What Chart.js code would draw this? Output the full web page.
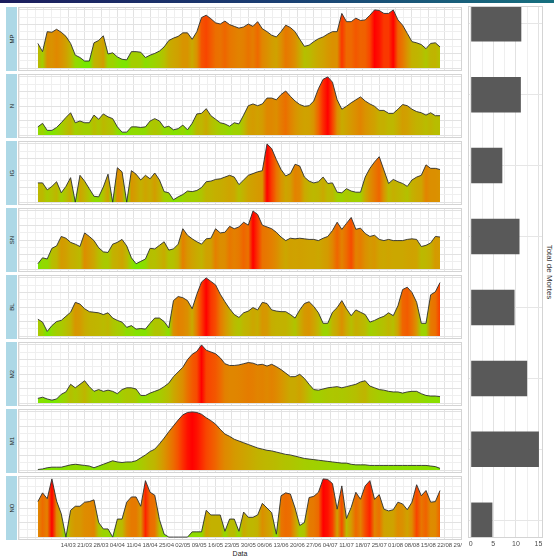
<!DOCTYPE html>
<html>
<head>
<meta charset="utf-8">
<script src="https://cdn.jsdelivr.net/npm/chart.js@4.4.0/dist/chart.umd.min.js"></script>
<style>
  body { margin: 0; width: 554px; height: 557px; overflow: hidden; position: relative; background: #fff; font-family: "Liberation Sans", Arial, sans-serif; }
  .topbar { position: absolute; left: 0; top: 0; width: 554px; height: 3px; background: linear-gradient(to right, #1b1c5c, #1a3e72, #17707f); }
  .strip { position: absolute; left: 6px; width: 11px; height: 64px; background: #add8e6; }
  .strip span { position: absolute; left: 50%; top: 50%; transform: translate(-50%, -50%) rotate(-90deg); font-size: 6px; color: #1a1a1a; white-space: nowrap; }
  .frame { position: absolute; border: 1px solid #d4d4d4; box-sizing: border-box; pointer-events: none; }
  canvas { position: absolute; }
  .label { position: absolute; color: #222; white-space: nowrap; }
</style>
</head>
<body>
<div class="topbar"></div>
<div class="label" style="left:240px; top:553px; font-size:7px; transform:translate(-50%,-50%);">Data</div>
<div class="label" style="left:549px; top:272px; font-size:8px; color:#333; transform:translate(-50%,-50%) rotate(90deg);">Total de Mortes</div>

<script>
// day offset from 01/03, one reading every two days (01/03 .. 20/08)
const days = Array.from({ length: 87 }, (_, i) => i * 2);

const tickLabels = ['14/03', '21/03', '28/03', '04/04', '11/04', '18/04', '25/04', '02/05', '09/05',
  '16/05', '23/05', '30/05', '06/06', '13/06', '20/06', '27/06', '04/07', '11/07', '18/07', '25/07',
  '01/08', '08/08', '15/08', '22/08', '29/08'];
const tickDays = tickLabels.map((_, i) => 13 + i * 7);

const panelNames = ['MP', 'N', 'IG', 'SN', 'BL', 'M2', 'M1', 'NO'];

const mp = [42, 28, 62, 61, 66, 61, 54, 42, 22, 18, 12, 12, 43, 47, 55, 24, 26, 19, 15, 14, 28, 28, 27, 18, 22, 25, 29, 36, 47, 51, 54, 60, 60, 49, 62, 86, 90, 84, 77, 75, 80, 74, 71, 68,
  70, 75, 71, 79, 67, 62, 56, 53, 62, 73, 69, 62, 49, 37, 39, 45, 50, 53, 58, 62, 62, 93, 79, 79, 85, 81, 82, 90, 99, 98, 93, 93, 99, 82, 73, 59, 45, 43, 40, 33, 42, 43, 36];
const n = [14, 20, 8, 8, 13, 21, 30, 38, 21, 24, 21, 21, 34, 27, 36, 31, 28, 14, 5, 5, 14, 14, 13, 14, 24, 28, 24, 13, 15, 9, 11, 17, 9, 20, 36, 37, 45, 33, 27, 21, 19, 15, 21, 19,
  34, 50, 53, 50, 53, 63, 63, 60, 69, 75, 66, 58, 52, 49, 50, 58, 79, 95, 99, 90, 60, 44, 49, 55, 60, 65, 58, 53, 49, 42, 42, 37, 37, 44, 52, 50, 44, 40, 38, 34, 38, 33, 33];
const ig = [33, 33, 21, 27, 35, 16, 27, 42, 0, 46, 36, 23, 10, 9, 26, 48, 0, 59, 52, 0, 54, 48, 38, 46, 40, 50, 38, 18, 16, 4, 9, 13, 19, 18, 20, 25, 35, 36, 39, 40, 43, 46, 43, 30,
  38, 46, 49, 52, 54, 100, 92, 73, 56, 45, 49, 65, 62, 43, 36, 33, 35, 43, 32, 33, 17, 16, 23, 19, 17, 17, 43, 58, 69, 78, 55, 32, 39, 35, 32, 27, 38, 43, 46, 64, 58, 58, 56];
const sn = [9, 19, 17, 35, 39, 55, 52, 45, 42, 38, 61, 55, 48, 36, 29, 28, 42, 45, 50, 39, 19, 9, 13, 17, 35, 34, 40, 46, 32, 34, 42, 68, 57, 51, 46, 42, 51, 52, 68, 61, 62, 72, 68, 71,
  79, 74, 98, 92, 74, 71, 68, 62, 54, 48, 52, 51, 52, 51, 50, 50, 48, 52, 55, 65, 79, 67, 77, 87, 67, 69, 60, 55, 57, 50, 48, 50, 48, 48, 48, 50, 51, 50, 38, 40, 44, 55, 54];
const bl = [29, 24, 8, 18, 25, 27, 34, 41, 58, 55, 47, 42, 41, 40, 37, 40, 31, 27, 24, 15, 18, 12, 13, 12, 22, 31, 31, 25, 14, 61, 68, 66, 61, 47, 72, 93, 100, 94, 88, 72, 59, 47, 37, 32,
  40, 43, 49, 45, 58, 56, 45, 43, 42, 42, 37, 31, 45, 56, 59, 51, 40, 22, 22, 41, 49, 61, 47, 35, 45, 41, 37, 24, 27, 31, 34, 40, 35, 52, 80, 84, 75, 58, 22, 22, 71, 76, 92];
const m2 = [8, 10, 7, 5, 7, 15, 19, 32, 26, 32, 38, 28, 20, 23, 20, 22, 20, 16, 23, 26, 26, 24, 13, 13, 17, 20, 23, 28, 34, 45, 53, 61, 74, 83, 88, 99, 90, 87, 84, 77, 67, 64, 64, 65,
  67, 69, 68, 65, 66, 63, 66, 62, 57, 51, 45, 45, 49, 42, 32, 23, 22, 24, 26, 27, 28, 26, 28, 30, 32, 36, 38, 29, 26, 23, 22, 20, 19, 19, 17, 19, 20, 20, 16, 13, 12, 12, 11];
const m1 = [1, 2, 4, 5, 5, 5, 7, 9, 10, 9, 8, 7, 4, 7, 10, 13, 16, 14, 13, 14, 14, 16, 21, 26, 32, 36, 45, 55, 66, 76, 86, 95, 99, 100, 99, 96, 90, 85, 79, 70, 62, 58, 53, 50,
  47, 44, 41, 38, 36, 34, 33, 31, 29, 27, 26, 24, 22, 20, 19, 18, 17, 16, 15, 14, 13, 12, 12, 10, 9, 9, 9, 8, 8, 8, 8, 8, 8, 8, 8, 8, 8, 8, 8, 8, 7, 6, 3];
const no = [61, 76, 66, 100, 62, 40, 0, 46, 53, 53, 60, 61, 64, 25, 14, 14, 0, 31, 31, 60, 69, 69, 53, 97, 77, 72, 30, 5, 0, 0, 0, 0, 0, 9, 9, 9, 46, 38, 38, 38, 10, 31, 31, 10,
  43, 34, 34, 38, 58, 50, 42, 5, 71, 76, 74, 50, 20, 25, 68, 70, 77, 100, 99, 92, 48, 88, 32, 51, 77, 65, 88, 97, 65, 73, 48, 45, 47, 60, 57, 47, 60, 90, 71, 80, 60, 61, 80];

const series = [mp, n, ig, sn, bl, m2, m1, no];

// Total de Mortes, same order as panels
const totals = [11.2, 11.1, 7.0, 10.8, 9.7, 12.5, 15.1, 4.8];

// ---- layout ----
const panelLeft = 18, panelWidth = 444, panelTop = 7, panelStep = 67, panelHeight = 64, axisHeight = 14;
const xMin = -8.5, xMax = 181.4;
const gridDays = [];
for (let v = 13 - 21; v <= xMax; v += 3.5) gridDays.push(v);

Chart.defaults.font.family = '"Liberation Sans", Arial, sans-serif';

// ---- green -> red gradient interpolated in CIELAB ----
const lowColor = [118, 232, 0];
const highColor = [255, 0, 0];
function toLin(c) { c /= 255; return c <= 0.04045 ? c / 12.92 : Math.pow((c + 0.055) / 1.055, 2.4); }
function fromLin(c) {
  c = c <= 0.0031308 ? 12.92 * c : 1.055 * Math.pow(c, 1 / 2.4) - 0.055;
  return Math.round(Math.min(1, Math.max(0, c)) * 255);
}
function rgbToLab(rgb) {
  const [r, g, b] = rgb.map(toLin);
  const f = t => t > 0.008856 ? Math.cbrt(t) : 7.787 * t + 16 / 116;
  const fx = f((0.4124 * r + 0.3576 * g + 0.1805 * b) / 0.95047);
  const fy = f(0.2126 * r + 0.7152 * g + 0.0722 * b);
  const fz = f((0.0193 * r + 0.1192 * g + 0.9505 * b) / 1.08883);
  return [116 * fy - 16, 500 * (fx - fy), 200 * (fy - fz)];
}
function labToRgb([L, a, bb]) {
  const fy = (L + 16) / 116, fx = fy + a / 500, fz = fy - bb / 200;
  const inv = t => t * t * t > 0.008856 ? t * t * t : (t - 16 / 116) / 7.787;
  const x = 0.95047 * inv(fx), y = inv(fy), z = 1.08883 * inv(fz);
  return [
    fromLin(3.2406 * x - 1.5372 * y - 0.4986 * z),
    fromLin(-0.9689 * x + 1.8758 * y + 0.0415 * z),
    fromLin(0.0557 * x - 0.2040 * y + 1.0570 * z)
  ];
}
const lowLab = rgbToLab(lowColor), highLab = rgbToLab(highColor);
function fillColor(t) {
  const [r, g, b] = labToRgb(lowLab.map((v, i) => v + (highLab[i] - v) * t));
  return `rgb(${r},${g},${b})`;
}

function areaGradient(ctx, values) {
  const chart = ctx.chart;
  const area = chart.chartArea;
  if (!area) return 'transparent';
  const xs = chart.scales.x;
  const vmin = Math.min(...values), vmax = Math.max(...values);
  const g = chart.ctx.createLinearGradient(area.left, 0, area.right, 0);
  values.forEach((v, i) => {
    const p = (xs.getPixelForValue(days[i]) - area.left) / (area.right - area.left);
    g.addColorStop(Math.min(1, Math.max(0, p)), fillColor((v - vmin) / (vmax - vmin)));
  });
  return g;
}

function addDiv(cls, left, top, width, height) {
  const d = document.createElement('div');
  d.className = cls;
  d.style.left = left + 'px';
  d.style.top = top + 'px';
  if (width) d.style.width = width + 'px';
  if (height) d.style.height = height + 'px';
  document.body.appendChild(d);
  return d;
}

series.forEach((values, i) => {
  const top = panelTop + i * panelStep;
  const last = i === series.length - 1;
  const vmax = Math.max(...values);

  const strip = addDiv('strip', 6, top);
  strip.innerHTML = '<span>' + panelNames[i] + '</span>';

  const cv = document.createElement('canvas');
  cv.width = panelWidth;
  cv.height = panelHeight + (last ? axisHeight : 0);
  cv.style.left = panelLeft + 'px';
  cv.style.top = top + 'px';
  document.body.appendChild(cv);

  new Chart(cv, {
    type: 'line',
    data: {
      datasets: [{
        data: values.map((v, k) => ({ x: days[k], y: v })),
        borderColor: '#2e2e2e',
        borderWidth: 0.9,
        pointRadius: 0,
        tension: 0,
        fill: 'origin',
        backgroundColor: ctx => areaGradient(ctx, values)
      }]
    },
    options: {
      responsive: false,
      animation: false,
      events: [],
      layout: { padding: 0 },
      plugins: { legend: { display: false }, tooltip: { enabled: false } },
      scales: {
        x: {
          type: 'linear', min: xMin, max: xMax,
          border: { display: false },
          grid: { drawTicks: false, color: c => tickDays.includes(c.tick.value) ? '#e2e2e2' : '#efefef' },
          afterBuildTicks: s => { s.ticks = gridDays.map(v => ({ value: v })); },
          ticks: {
            display: last, autoSkip: false, maxRotation: 0, minRotation: 0, padding: 2,
            font: { size: 6 }, color: '#4d4d4d',
            callback: v => { const k = tickDays.indexOf(v); return k >= 0 ? tickLabels[k] : ''; }
          },
          afterFit: s => { s.height = last ? axisHeight : 0; s.paddingLeft = 0; s.paddingRight = 0; }
        },
        y: {
          min: -0.05 * vmax, max: 1.05 * vmax,
          border: { display: false },
          ticks: { display: false },
          grid: { drawTicks: false, color: c => c.index % 2 === 0 ? '#e2e2e2' : '#efefef' },
          afterBuildTicks: s => { s.ticks = Array.from({ length: 9 }, (_, k) => ({ value: vmax * k / 8 })); },
          afterFit: s => { s.width = 0; }
        }
      }
    }
  });

  addDiv('frame', panelLeft, top, panelWidth, panelHeight);
});

// ---- right-hand totals ----
const barLeft = 468, barTop = 6, barWidth = 75, barHeight = 532;
const bc = document.createElement('canvas');
bc.width = barWidth;
bc.height = barHeight + axisHeight;
bc.style.left = barLeft + 'px';
bc.style.top = barTop + 'px';
document.body.appendChild(bc);

new Chart(bc, {
  type: 'bar',
  data: {
    datasets: [{
      data: totals.map((v, i) => ({ x: v, y: i })),
      backgroundColor: '#595959',
      barPercentage: 0.5,
      categoryPercentage: 1
    }]
  },
  options: {
    indexAxis: 'y',
    responsive: false,
    animation: false,
    events: [],
    layout: { padding: 0 },
    plugins: { legend: { display: false }, tooltip: { enabled: false } },
    scales: {
      x: {
        type: 'linear', min: -0.6, max: 16,
        border: { display: false },
        grid: { drawTicks: false, color: c => c.tick.value % 5 === 0 ? '#e2e2e2' : '#efefef' },
        afterBuildTicks: s => { s.ticks = [0, 2.5, 5, 7.5, 10, 12.5, 15].map(v => ({ value: v })); },
        ticks: {
          autoSkip: false, maxRotation: 0, minRotation: 0, padding: 2,
          font: { size: 7 }, color: '#4d4d4d',
          callback: v => v % 5 === 0 ? v : ''
        },
        afterFit: s => { s.height = axisHeight; s.paddingLeft = 0; s.paddingRight = 0; }
      },
      y: {
        type: 'linear', min: -0.25, max: 7.25, reverse: true, offset: false,
        border: { display: false },
        ticks: { display: false },
        grid: { offset: false, drawTicks: false, color: '#e6e6e6' },
        afterBuildTicks: s => { s.ticks = totals.map((_, i) => ({ value: i })); },
        afterFit: s => { s.width = 0; }
      }
    }
  }
});

addDiv('frame', barLeft, barTop, barWidth, barHeight);
</script>
</body>
</html>
